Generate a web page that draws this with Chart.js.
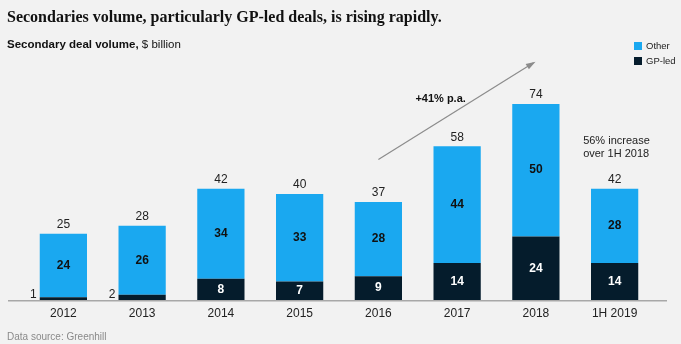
<!DOCTYPE html>
<html>
<head>
<meta charset="utf-8">
<script src="https://cdn.jsdelivr.net/npm/chart.js@4"></script>
<style>
  html, body { margin: 0; padding: 0; background: #f2f2f2; }
  #wrap { position: relative; width: 681px; height: 344px; overflow: hidden;
          font-family: "Liberation Sans", Arial, sans-serif; color: #111; }
  #chart { position: absolute; left: 0; top: 0; }
  .title { position: absolute; left: 7px; top: 8px; font-family: "Liberation Serif", serif;
           font-weight: bold; font-size: 16px; color: #111; white-space: nowrap; }
  .subtitle { position: absolute; left: 7px; top: 38px; font-size: 11.5px; white-space: nowrap; }
  .subtitle b { font-weight: bold; }
  .legend { position: absolute; left: 634px; top: 40px; font-size: 9.5px; color: #222; }
  .legend div { height: 15px; line-height: 12px; white-space: nowrap; }
  .legend span { display: inline-block; width: 8px; height: 8px; margin-right: 4px; vertical-align: -1px; }
  .source { position: absolute; left: 7px; top: 331px; font-size: 10px; color: #8a8a8a; }
</style>
</head>
<body>
<div id="wrap">
  <canvas id="chart" width="681" height="344"></canvas>
  <div class="title">Secondaries volume, particularly GP-led deals, is rising rapidly.</div>
  <div class="subtitle"><b>Secondary deal volume,</b> $ billion</div>
  <div class="legend">
    <div><span style="background:#1aa8f0"></span>Other</div>
    <div><span style="background:#051c2c"></span>GP-led</div>
  </div>
  <div class="source">Data source: Greenhill</div>
</div>
<script>
document.addEventListener('DOMContentLoaded', () => {

    // chart values
    const categories = ['2012', '2013', '2014', '2015', '2016', '2017', '2018', '1H 2019'];
    const gpLed = [1, 2, 8, 7, 9, 14, 24, 14];
    const other = [24, 26, 34, 33, 28, 44, 50, 28];
    const totals = [25, 28, 42, 40, 37, 58, 74, 42];

    const BLUE = '#1aa8f0';
    const NAVY = '#051c2c';
    const FONT = '"Liberation Sans", Arial, sans-serif';

    // value labels, baseline and the growth arrow
    const decorations = {
        id: 'decorations',
        afterDatasetsDraw(chart) {
            const c = chart.ctx;
            const xs = chart.scales.x;
            const ys = chart.scales.y;
            const base = chart.chartArea.bottom;

            // baseline
            c.save();
            c.strokeStyle = '#a8a8a8';
            c.lineWidth = 1.5;
            c.beginPath();
            c.moveTo(8, base + 0.75);
            c.lineTo(667, base + 0.75);
            c.stroke();

            const gpMeta = chart.getDatasetMeta(0);
            const otherMeta = chart.getDatasetMeta(1);
            c.textBaseline = 'middle';

            gpMeta.data.forEach((bar, i) => {
                if (gpLed[i] < 4) {
                    // too thin for a label inside: put it left of the bar
                    c.fillStyle = '#222';
                    c.font = '12px ' + FONT;
                    c.textAlign = 'right';
                    c.fillText(String(gpLed[i]), bar.x - bar.width / 2 - 3, bar.base - 5);
                } else {
                    c.fillStyle = '#fff';
                    c.font = '600 12px ' + FONT;
                    c.textAlign = 'center';
                    c.fillText(String(gpLed[i]), bar.x, (bar.y + bar.base) / 2);
                }
            });

            otherMeta.data.forEach((bar, i) => {
                c.fillStyle = '#111';
                c.font = '600 12px ' + FONT;
                c.textAlign = 'center';
                c.fillText(String(other[i]), bar.x, (bar.y + bar.base) / 2);
                c.font = '12px ' + FONT;
                c.fillStyle = '#222';
                c.fillText(String(totals[i]), bar.x, bar.y - 9);
            });

            // growth arrow, placed in data space
            const x0 = xs.getPixelForValue(4), y0 = ys.getPixelForValue(53);
            const x1 = xs.getPixelForValue(5.97), y1 = ys.getPixelForValue(89.5);
            c.strokeStyle = '#8c8c8c';
            c.fillStyle = '#8c8c8c';
            c.lineWidth = 1.2;
            c.beginPath();
            c.moveTo(x0, y0);
            c.lineTo(x1, y1);
            c.stroke();
            const ang = Math.atan2(y1 - y0, x1 - x0);
            c.beginPath();
            c.moveTo(x1 + 2, y1 - 1.2);
            c.lineTo(x1 - 8 * Math.cos(ang - 0.4), y1 - 8 * Math.sin(ang - 0.4));
            c.lineTo(x1 - 8 * Math.cos(ang + 0.4), y1 - 8 * Math.sin(ang + 0.4));
            c.closePath();
            c.fill();

            c.fillStyle = '#111';
            c.font = 'bold 11px ' + FONT;
            c.textAlign = 'left';
            c.fillText('+41% p.a.', xs.getPixelForValue(4.47), ys.getPixelForValue(76));

            c.font = '11px ' + FONT;
            c.fillStyle = '#222';
            c.fillText('56% increase', xs.getPixelForValue(6.6), ys.getPixelForValue(60.2));
            c.fillText('over 1H 2018', xs.getPixelForValue(6.6), ys.getPixelForValue(55.2));
            c.restore();
        }
    };

    const ctx = document.getElementById('chart').getContext('2d');

    new Chart(ctx, {
        type: 'bar',
        data: {
            labels: categories,
            datasets: [
                { label: 'GP-led', data: gpLed, backgroundColor: NAVY },
                { label: 'Other', data: other, backgroundColor: BLUE }
            ]
        },
        options: {
            responsive: false,
            animation: false,
            events: [],
            layout: { padding: { top: 88, left: 24, right: 27, bottom: 0 } },
            datasets: { bar: { barPercentage: 0.6, categoryPercentage: 1.0 } },
            plugins: {
                legend: { display: false },
                tooltip: { enabled: false }
            },
            scales: {
                x: {
                    stacked: true,
                    border: { display: false },
                    grid: { display: false, drawTicks: false },
                    ticks: { color: '#222', padding: 6, font: { family: FONT, size: 12 } },
                    afterFit: (s) => { s.height = 44; }
                },
                y: {
                    stacked: true,
                    display: false,
                    min: 0,
                    max: 80
                }
            }
        },
        plugins: [decorations]
    });
});
</script>
</body>
</html>
